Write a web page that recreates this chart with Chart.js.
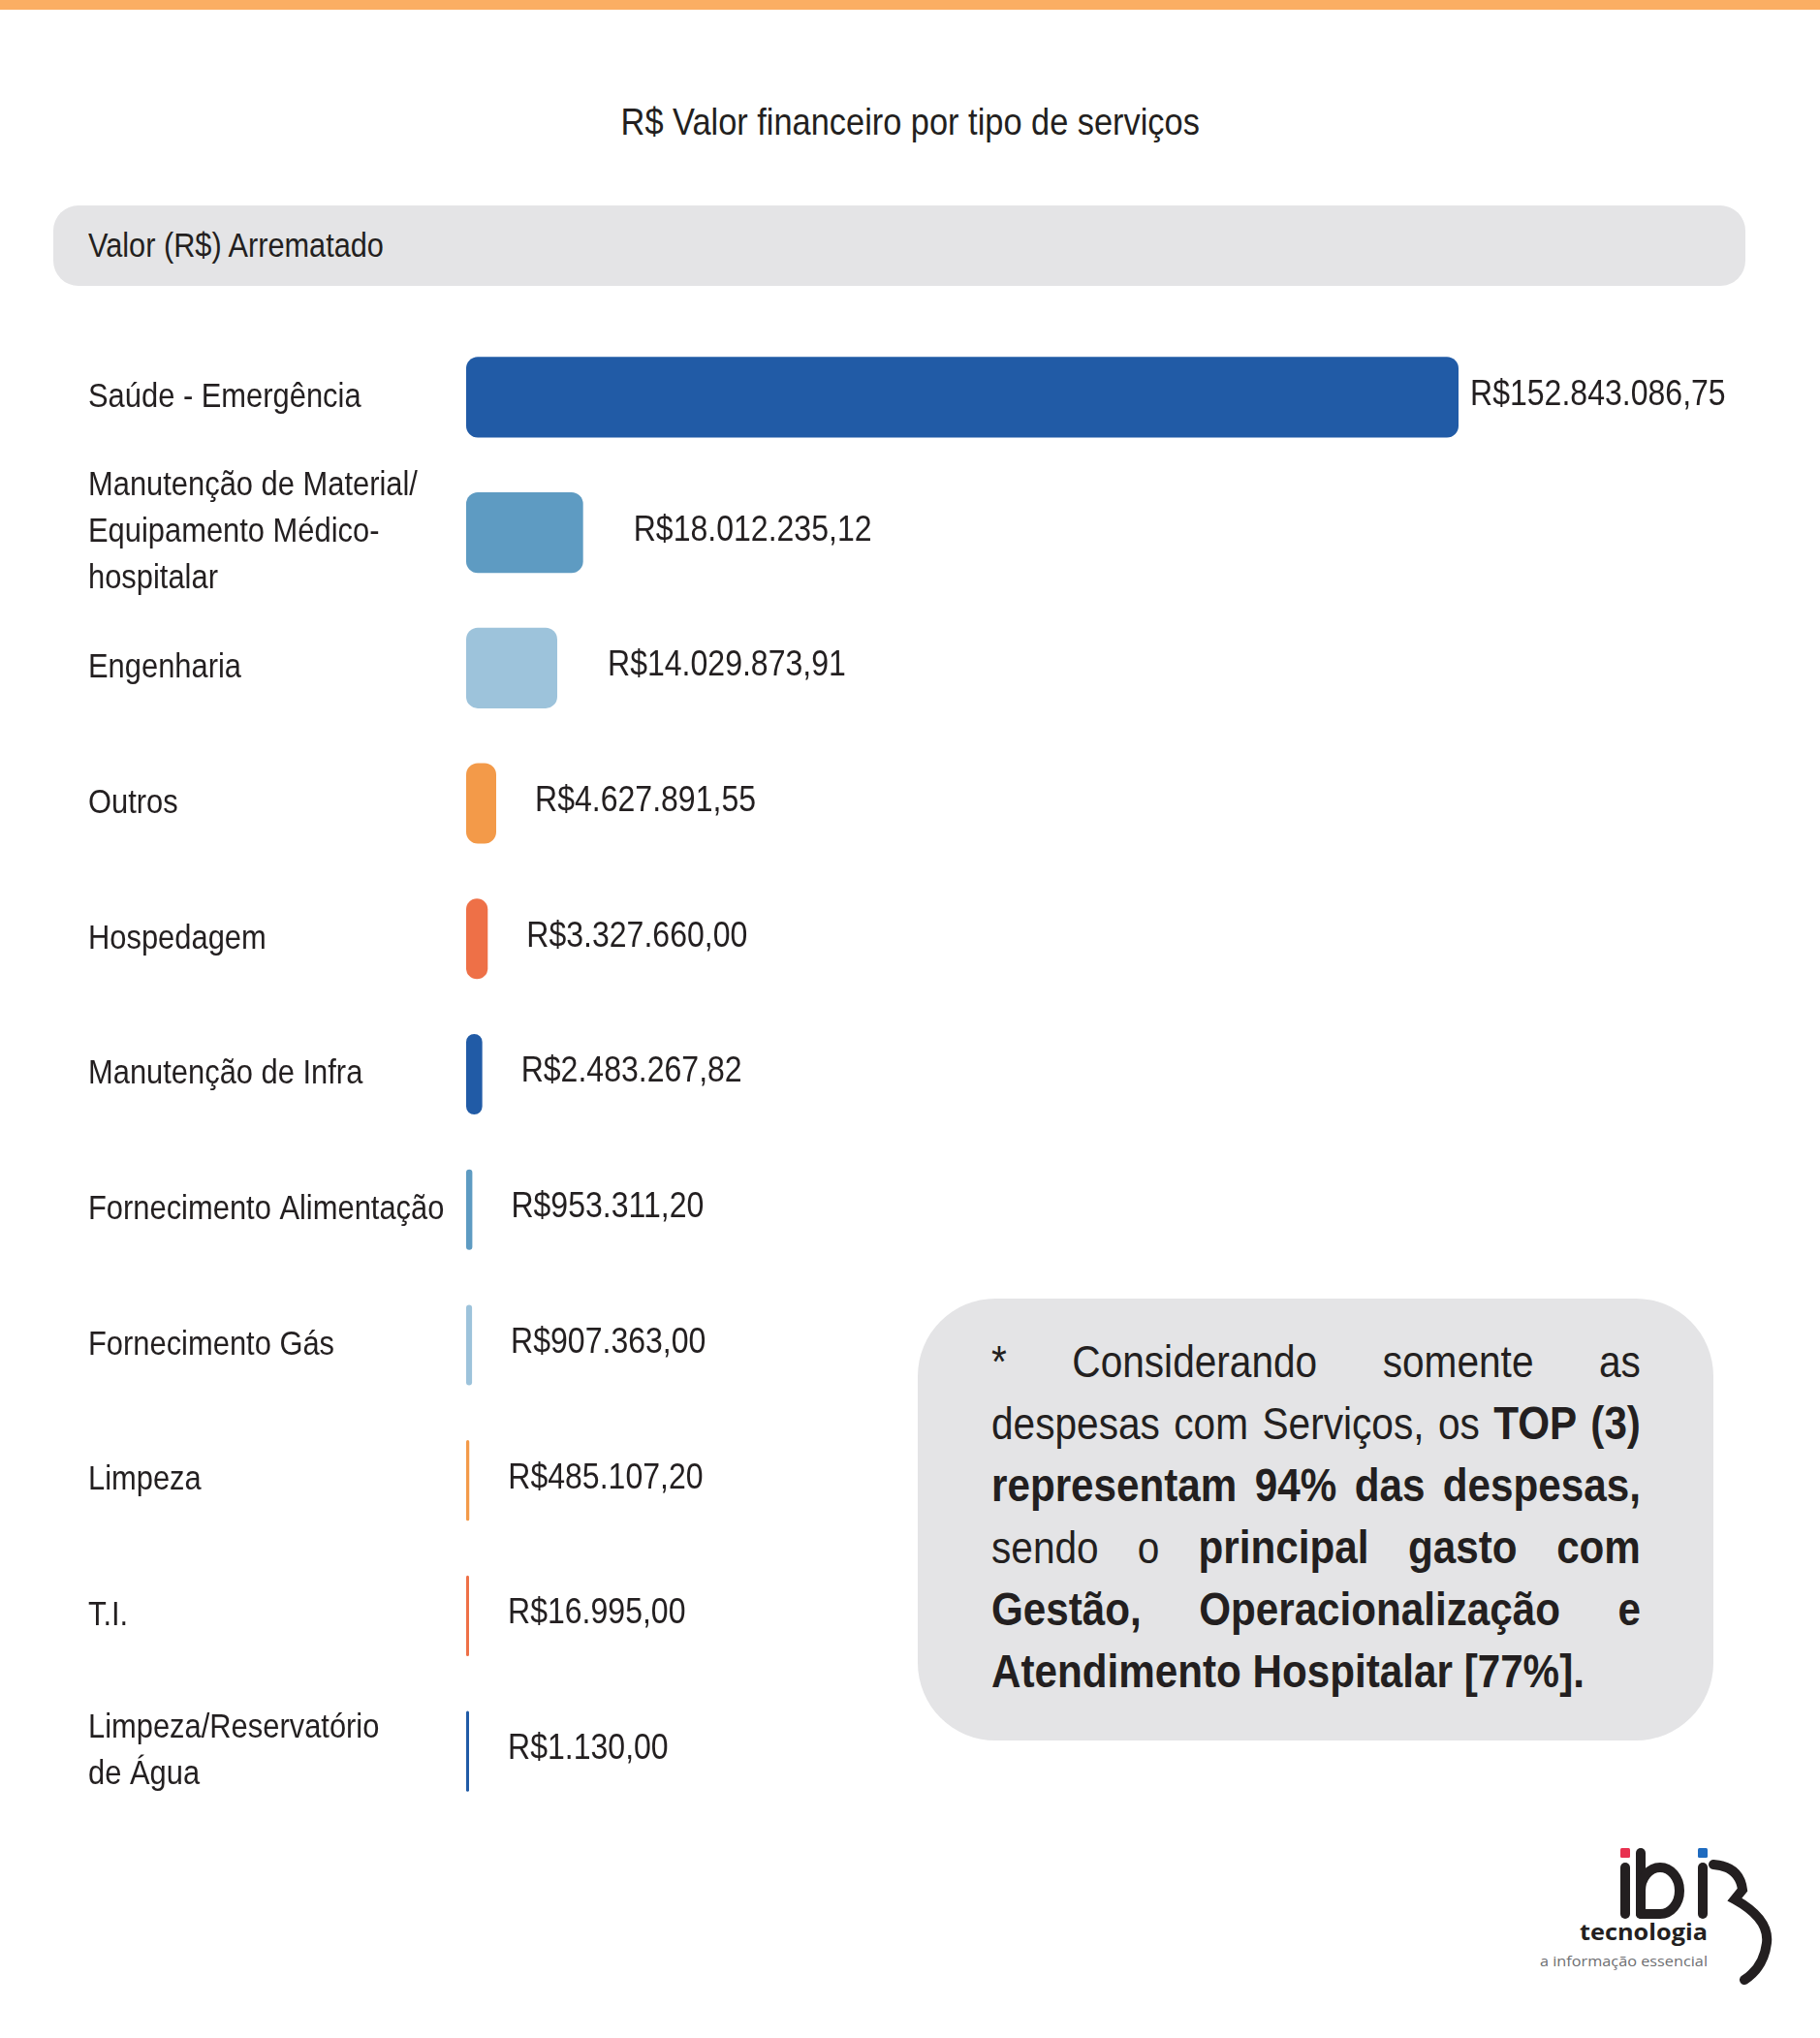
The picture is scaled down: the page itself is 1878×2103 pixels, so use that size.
<!DOCTYPE html>
<html lang="pt-BR">
<head>
<meta charset="utf-8">
<title>R$ Valor financeiro por tipo de serviços</title>
<script src="https://cdn.jsdelivr.net/npm/chart.js@4/dist/chart.umd.min.js"></script>
<style>
    body {
        margin: 0;
        width: 1878px;
        height: 2103px;
        background: #ffffff;
        position: relative;
        overflow: hidden;
        font-family: 'Liberation Sans', Arial, sans-serif;
        color: #231f20;
    }
    .narrow { display: inline-block; transform: scaleX(0.87); white-space: nowrap; }
    #top-line {
        position: absolute; left: 0; top: 0; width: 1878px; height: 10px;
        background: #fbae63;
    }
    #title {
        position: absolute; left: 0; top: 100px; width: 1878px;
        text-align: center; font-size: 39.5px; line-height: 50px;
    }
    #title .narrow { transform-origin: center; }
    #header-band {
        position: absolute; left: 55px; top: 212px; width: 1746px; height: 83px;
        background: #e4e4e6; border-radius: 26px;
    }
    #header-band .narrow {
        position: absolute; left: 36px; top: 18px; font-size: 35.3px; line-height: 46px;
        transform-origin: left center;
    }
    #chart-wrap {
        position: absolute; left: 91px; top: 340px; width: 1787px; height: 1537px;
    }
    #note {
        position: absolute; left: 947px; top: 1340px; width: 821px; height: 456px;
        background: #e4e4e6; border-radius: 80px;
    }
    #note-text {
        position: absolute; left: 76px; top: 34px; width: 770px;
        transform: scaleX(0.87); transform-origin: left top;
        font-size: 46.7px; line-height: 63px;
    }
    #note-text b { font-size: 48.5px; }
    #note-text .ln { display: block; text-align: justify; text-align-last: justify; }
    #note-text .ln.last { text-align-last: left; }
    #logo { position: absolute; left: 1550px; top: 1880px; }
</style>
</head>
<body>
<div id="top-line"></div>
<div id="title"><span class="narrow">R$ Valor financeiro por tipo de serviços</span></div>
<div id="header-band"><span class="narrow">Valor (R$) Arrematado</span></div>
<div id="chart-wrap"><canvas id="chart-servicos" width="1787" height="1537"></canvas></div>
<div id="note">
    <div id="note-text">
        <span class="ln">* Considerando somente as</span>
        <span class="ln">despesas com Serviços, os <b>TOP (3)</b></span>
        <span class="ln"><b>representam 94% das despesas,</b></span>
        <span class="ln">sendo o <b>principal gasto com</b></span>
        <span class="ln"><b>Gestão, Operacionalização e</b></span>
        <span class="ln last"><b>Atendimento Hospitalar [77%].</b></span>
    </div>
</div>
<svg id="logo" width="328" height="223" viewBox="0 0 328 223">
    <rect x="122" y="27" width="10" height="10" rx="1.5" fill="#e8304f"/>
    <rect x="202" y="27" width="10" height="10" rx="1.5" fill="#1f6bbf"/>
    <g fill="none" stroke="#231f20" stroke-width="10" stroke-linecap="round">
        <line x1="127" y1="47" x2="127" y2="95"/>
        <line x1="143" y1="32" x2="143" y2="95"/>
        <path d="M143 95 L163 95 A20 24 0 0 0 183 71 A20 24 0 0 0 143 71"/>
        <line x1="207" y1="47" x2="207" y2="95"/>
        <path d="M218 44 Q245 46 248 70 L240 80 Q276 100 273 125 Q270 150 250 163"/>
    </g>
    <text x="80" y="122" textLength="132" lengthAdjust="spacingAndGlyphs" font-family="Open Sans, sans-serif" font-weight="bold" font-size="24" fill="#231f20">tecnologia</text>
    <text x="39" y="149" textLength="173" lengthAdjust="spacingAndGlyphs" font-family="Open Sans, sans-serif" font-size="15" fill="#6d6e71">a informação essencial</text>
</svg>

<script>
const categories = [
    'Saúde - Emergência',
    ['Manutenção de Material/', 'Equipamento Médico-', 'hospitalar'],
    'Engenharia',
    'Outros',
    'Hospedagem',
    'Manutenção de Infra',
    'Fornecimento Alimentação',
    'Fornecimento Gás',
    'Limpeza',
    'T.I.',
    ['Limpeza/Reservatório', 'de Água']
];
const valores = [152843086.75, 18012235.12, 14029873.91, 4627891.55, 3327660.00, 2483267.82, 953311.20, 907363.00, 485107.20, 16995.00, 1130.00];
const valorLabels = ['R$152.843.086,75', 'R$18.012.235,12', 'R$14.029.873,91', 'R$4.627.891,55', 'R$3.327.660,00', 'R$2.483.267,82', 'R$953.311,20', 'R$907.363,00', 'R$485.107,20', 'R$16.995,00', 'R$1.130,00'];
const palette = ['#215ba6', '#5e9bc2', '#9dc3db', '#f39a49', '#ee7047'];

const FONT = "'Liberation Sans', Arial, sans-serif";
const NARROW = 0.87;   // horizontal squeeze to imitate the condensed face
const AXIS_WIDTH = 390;

// draw text squeezed horizontally
function narrowText(ctx, text, x, y, squeeze) {
    ctx.save();
    ctx.translate(x, y);
    ctx.scale(squeeze || NARROW, 1);
    ctx.fillText(text, 0, 0);
    ctx.restore();
}

// category names (left aligned) and value labels next to each bar
const labelPlugin = {
    id: 'labels',
    afterDatasetsDraw(chart) {
        const ctx = chart.ctx;
        const yScale = chart.scales.y;
        const meta = chart.getDatasetMeta(0);
        ctx.save();
        ctx.fillStyle = '#231f20';
        ctx.textBaseline = 'middle';
        ctx.textAlign = 'left';

        ctx.font = '35.5px ' + FONT;
        const left = chart.chartArea.left - AXIS_WIDTH;
        categories.forEach((label, i) => {
            const lines = Array.isArray(label) ? label : [label];
            const y0 = yScale.getPixelForValue(i) - (lines.length - 1) * 48 / 2;
            lines.forEach((line, k) => narrowText(ctx, line, left, y0 + k * 48));
        });

        ctx.font = '36px ' + FONT;
        meta.data.forEach((bar, i) => {
            const offset = i === 0 ? 12 : (i < 3 ? 52 : 40);
            narrowText(ctx, valorLabels[i], bar.x + offset, bar.y - 2, 0.89);
        });
        ctx.restore();
    }
};

function loadGraph() {
    const config = {
        type: 'bar',
        data: {
            labels: categories,
            datasets: [{
                data: valores,
                backgroundColor: valores.map((_, i) => palette[i % palette.length]),
                borderRadius: 12,
                borderSkipped: false,
                categoryPercentage: 1,
                barPercentage: 0.595,
                minBarLength: 3
            }]
        },
        options: {
            indexAxis: 'y',
            responsive: false,
            animation: false,
            layout: { padding: { left: 0, right: 373, top: 0, bottom: 0 } },
            scales: {
                x: {
                    display: false,
                    min: 0,
                    max: valores[0]
                },
                y: {
                    grid: { display: false },
                    border: { display: false },
                    ticks: { display: false },
                    afterFit: (scale) => { scale.width = AXIS_WIDTH; }
                }
            },
            plugins: {
                legend: { display: false },
                tooltip: { enabled: false }
            }
        },
        plugins: [labelPlugin]
    };

    const ctx = document.getElementById('chart-servicos').getContext('2d');
    new Chart(ctx, config);
}

document.addEventListener('DOMContentLoaded', loadGraph);
</script>
</body>
</html>
